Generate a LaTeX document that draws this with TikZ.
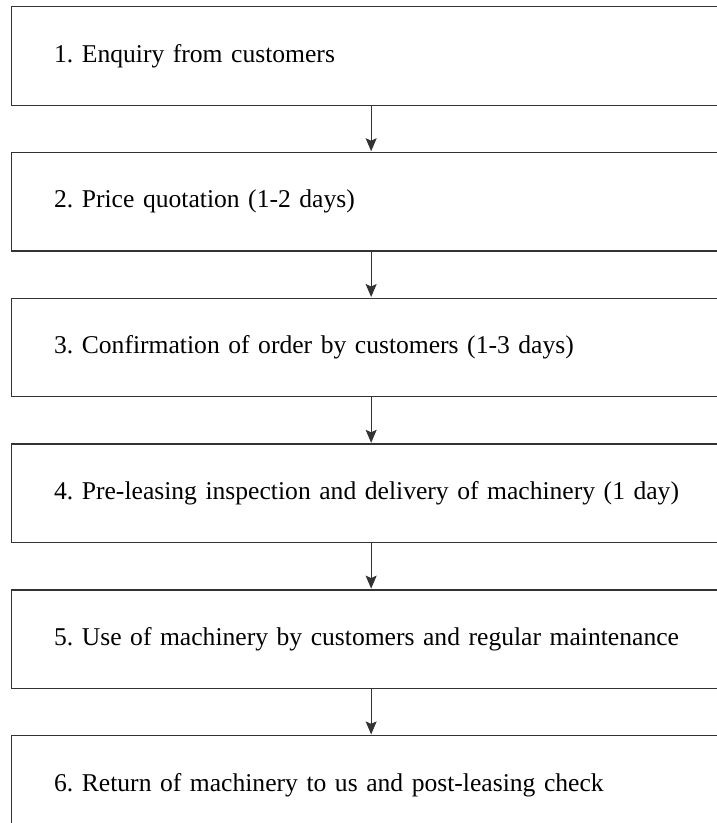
\documentclass[tikz,border=0pt]{standalone}
\usepackage{fontspec}
\setmainfont{Liberation Serif}
\usetikzlibrary{arrows.meta,positioning}
\definecolor{cL}{HTML}{333333}
\tikzset{
  stagebox/.style={draw=cL,line width=1.3pt,minimum width=720pt,
              minimum height=98.5pt,inner xsep=42.8pt,text width=634pt,
              align=left,font=\fontsize{25.6}{30}\selectfont\frenchspacing},
  flowarrow/.style={-{Stealth[length=13pt,width=11pt,inset=2.5pt]},
              line width=1pt,cL,shorten >=0.6pt},
}
\begin{document}
\begin{tikzpicture}[x=1pt,y=1pt,node distance=46pt]
  \clip (0,0) rectangle (717,-823);
  \useasboundingbox (0,0) rectangle (717,-823);
  \node[stagebox,anchor=north west] (s1) at (10.5,-6)
     {1. Enquiry from customers};
  \node[stagebox,below=of s1] (s2) {2. Price quotation (1-2 days)};
  \node[stagebox,below=of s2] (s3)
     {3. Confirmation of order by customers (1-3 days)};
  \node[stagebox,below=of s3] (s4)
     {4. Pre-leasing inspection and delivery of machinery (1 day)};
  \node[stagebox,below=of s4] (s5)
     {5. Use of machinery by customers and regular maintenance};
  \node[stagebox,below=of s5] (s6)
     {6. Return of machinery to us and post-leasing check};
  \draw[flowarrow](s1)--(s2);\draw[flowarrow](s2)--(s3);
  \draw[flowarrow](s3)--(s4);\draw[flowarrow](s4)--(s5);
  \draw[flowarrow](s5)--(s6);
\end{tikzpicture}
\end{document}
